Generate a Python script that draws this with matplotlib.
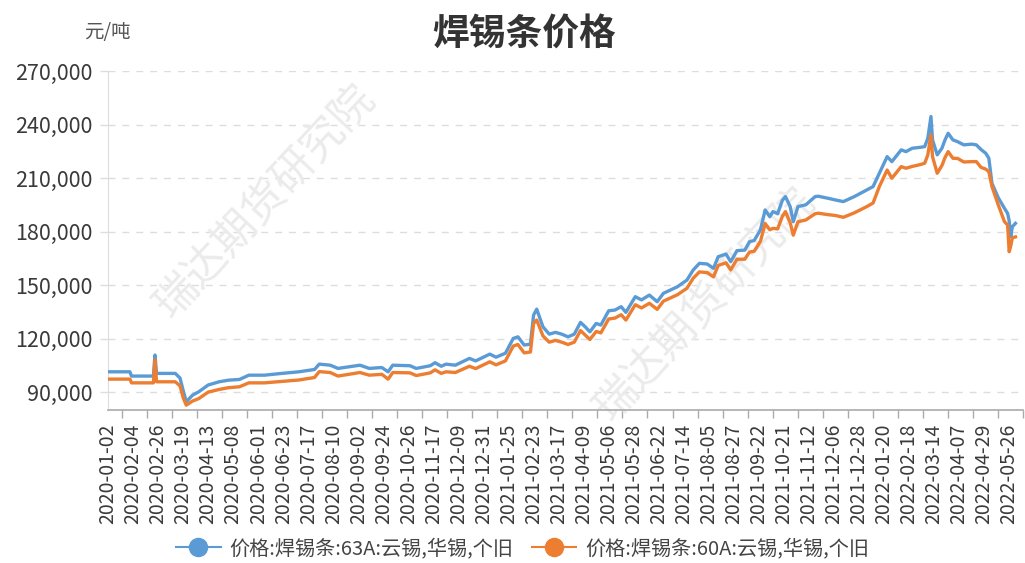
import numpy as np
import matplotlib.pyplot as plt
from matplotlib.lines import Line2D

plt.rcParams['font.family'] = ['Noto Sans CJK SC', 'DejaVu Sans']

# 交易日序号 (0 = 2020-01-02)
trade_day = [0, 14, 15, 29, 30, 31, 43, 46, 48, 50, 54, 58, 64, 71, 77, 84, 90, 100,
             111, 122, 132, 135, 142, 147, 161, 167, 175, 179, 182, 193, 197, 206, 209,
             213, 216, 222, 231, 235, 244, 248, 254, 259, 262, 266, 270, 272, 274, 278,
             282, 286, 290, 294, 298, 302, 305, 308, 312, 315, 320, 324, 328, 331, 337,
             341, 346, 351, 355, 364, 370, 374, 378, 383, 387, 390, 395, 398, 402, 407,
             410, 413, 417, 420, 423, 425, 428, 431, 433, 436, 438, 441, 446, 452, 454,
             460, 465, 470, 477, 485, 489, 493, 498, 501, 507, 510, 514, 519, 522, 524,
             526, 527, 530, 533, 535, 537, 540, 543, 547, 552, 555, 558, 561, 563, 565,
             569, 573, 575, 576, 577, 578, 580]

# 价格:焊锡条:63A (元/吨)
price_63a = [101400, 101400, 99000, 99000, 110800, 100500, 100500, 97900, 91000, 84600,
             88300, 90200, 94000, 95800, 96700, 97100, 99500, 99500, 100500, 101400,
             102700, 105700, 105100, 103300, 105100, 103300, 103800, 101400, 105100,
             104800, 103300, 104800, 106500, 104500, 105700, 105100, 108900, 107500,
             111300, 109600, 111800, 120100, 121000, 116400, 116900, 133200, 136500,
             126600, 122500, 123500, 122500, 121000, 122500, 129100, 126600, 123800,
             128500, 127600, 135600, 136000, 137900, 134700, 143500, 141700, 144400,
             140700, 145400, 149100, 152800, 158400, 162200, 161800, 159400, 165900,
             167400, 163100, 169300, 169600, 174300, 175000, 180900, 192100, 188300,
             191200, 190000, 197500, 199600, 194000, 185500, 194000, 195000, 199600,
             199800, 198700, 197700, 196800, 199600, 203300, 205200, 212700, 222000,
             219200, 225800, 224800, 226700, 227200, 227600, 232300, 244500, 231400,
             223000, 226700, 231400, 235100, 231400, 230400, 228600, 229000, 228600,
             226000, 223900, 221100, 207000, 199000, 193000, 190200, 186000, 177100,
             182700, 184600]

# 价格:焊锡条:60A (元/吨)
price_60a = [97300, 97300, 95200, 95200, 108000, 95800, 95800, 93500, 87000, 82700,
             85000, 86400, 90000, 91500, 92500, 93000, 95200, 95200, 96000, 96800,
             98200, 101500, 101000, 99000, 101000, 99500, 100000, 97300, 101000,
             100800, 99300, 100800, 102500, 100500, 101400, 101000, 104500, 103200,
             107000, 105300, 107500, 115800, 116700, 112000, 112500, 128500, 130400,
             121500, 118000, 119000, 118000, 116700, 118000, 124500, 122000, 119500,
             124000, 123200, 131000, 131500, 133400, 130400, 139000, 137200, 139800,
             136400, 141000, 144600, 148200, 153800, 157400, 157000, 154600, 161000,
             162500, 158500, 164500, 164500, 168500, 169000, 174500, 184500, 181000,
             181800, 181500, 188500, 191200, 185000, 178000, 185500, 186500, 190000,
             190300, 189500, 189000, 188000, 190500, 194000, 196000, 205200, 214500,
             209900, 216400, 215500, 216500, 217500, 218300, 223000, 234200, 222000,
             212700, 217000, 221500, 224800, 221100, 221000, 219000, 219200, 219200,
             216000, 215000, 213600, 205200, 195000, 185500, 183700, 168700, 172000,
             176500, 177000]

date_labels = ['2020-01-02', '2020-02-04', '2020-02-26', '2020-03-19', '2020-04-13',
               '2020-05-08', '2020-06-01', '2020-06-23', '2020-07-17', '2020-08-10',
               '2020-09-02', '2020-09-24', '2020-10-26', '2020-11-17', '2020-12-09',
               '2020-12-31', '2021-01-25', '2021-02-23', '2021-03-17', '2021-04-09',
               '2021-05-06', '2021-05-28', '2021-06-22', '2021-07-14', '2021-08-05',
               '2021-08-27', '2021-09-22', '2021-10-21', '2021-11-12', '2021-12-06',
               '2021-12-28', '2022-01-20', '2022-02-18', '2022-03-14', '2022-04-07',
               '2022-04-29', '2022-05-26']
label_step = 16  # 每16个交易日一个标签

y_ticks = [90000, 120000, 150000, 180000, 210000, 240000, 270000]

name_63a = '价格:焊锡条:63A:云锡,华锡,个旧'
name_60a = '价格:焊锡条:60A:云锡,华锡,个旧'
blue = '#5b9bd5'
orange = '#ed7d31'

fig = plt.figure(figsize=(10.25, 5.63), dpi=100)
ax = fig.add_axes([0.1054, 0.2718, 0.8926, 0.6021])

ax.plot(trade_day, price_63a, color=blue, lw=2.4, zorder=3)
ax.plot(trade_day, price_60a, color=orange, lw=2.4, zorder=3)

ax.set_xlim(0, 579)
ax.set_ylim(80000, 270000)

label_pos = np.arange(len(date_labels)) * label_step
ax.set_xticks(label_pos)
ax.set_xticklabels(date_labels, rotation=90, fontsize=14, color='#3a3a3a')
ax.set_xticks(label_pos + 8.8, minor=True)
ax.tick_params(axis='x', which='major', length=0, pad=10)
ax.tick_params(axis='x', which='minor', length=6, width=1, color='#aaaaaa')

ax.set_yticks(y_ticks)
ax.set_yticklabels([f'{v:,}' for v in y_ticks], fontsize=15.5, color='#3a3a3a')
ax.tick_params(axis='y', length=6, width=1, color='#dddddd', pad=5)

ax.grid(axis='y', color='#dddddd', linestyle=(0, (5, 5)), linewidth=1)
ax.set_axisbelow(True)
for s in ['top', 'right']:
    ax.spines[s].set_visible(False)
ax.spines['left'].set_color('#dddddd')
ax.spines['bottom'].set_color('#aaaaaa')
ax.spines['bottom'].set_linewidth(1.2)

# 水印
for wx, wy in [(0.259, 0.64), (0.688, 0.458)]:
    ax.text(wx, wy, '瑞达期货研究院', transform=fig.transFigure, rotation=47,
            fontsize=31, color='#ebebeb', ha='center', va='center',
            clip_on=False, zorder=1)

fig.text(0.511, 0.94, '焊锡条价格', fontsize=26.5, fontweight='bold', color='#333333',
         ha='center', va='center')
fig.text(0.105, 0.942, '元/吨', fontsize=14, color='#555555', ha='center', va='center')

handles = [Line2D([], [], color=blue, lw=1.5, marker='o', markersize=13),
           Line2D([], [], color=orange, lw=1.5, marker='o', markersize=13)]
fig.legend(handles, [name_63a, name_60a], loc='center', bbox_to_anchor=(0.51, 0.025),
           ncol=2, frameon=False, fontsize=14.5, handlelength=2.2, handletextpad=0.45,
           columnspacing=0.9, labelcolor='#444444')

fig.savefig('out.png', dpi=100)
